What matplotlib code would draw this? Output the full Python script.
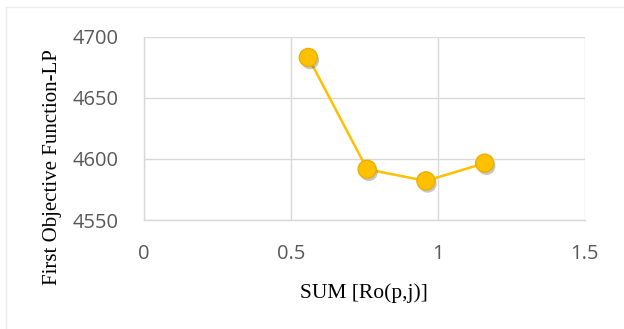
import matplotlib
matplotlib.use("Agg")
import matplotlib.pyplot as plt
from matplotlib.lines import Line2D
import matplotlib.patheffects as pe

x_vals = [0.56, 0.76, 0.96, 1.16]
y_vals = [4683, 4591.5, 4582, 4596.5]
x_ticks = [0, 0.5, 1, 1.5]
x_tick_labels = ["0", "0.5", "1", "1.5"]
y_ticks = [4550, 4600, 4650, 4700]
y_tick_labels = ["4550", "4600", "4650", "4700"]

W, H = 624, 329
fig = plt.figure(figsize=(W / 100, H / 100), dpi=100)
ax = fig.add_axes([0.2303, 0.3313, 0.9370 - 0.2303, 0.8884 - 0.3313])

# faint frame lines (top and left)
fig.lines.append(Line2D([6 / W, 1.0], [1 - 7 / H, 1 - 7 / H], transform=fig.transFigure,
                        color="#ececec", linewidth=1.0))
fig.lines.append(Line2D([6 / W, 6 / W], [0.0, 1 - 7 / H], transform=fig.transFigure,
                        color="#ececec", linewidth=1.0))

ax.plot(x_vals, y_vals, color="#FFC000", linewidth=1.8, zorder=3)
ax.plot(x_vals, y_vals, linestyle="none", zorder=4,
        marker="o", markersize=13, markerfacecolor="#FFC000",
        markeredgecolor="#EAB000", markeredgewidth=1.0,
        path_effects=[pe.SimplePatchShadow(offset=(1.2, -2.0), alpha=0.3, shadow_rgbFace="#444444"), pe.Normal()])

ax.set_xlim(0, 1.5)
ax.set_ylim(4550, 4700)
ax.set_xticks(x_ticks)
ax.set_xticklabels(x_tick_labels)
ax.set_yticks(y_ticks)
ax.set_yticklabels(y_tick_labels)

ax.grid(True, color="#d9d9d9", linewidth=1.0)
ax.set_axisbelow(True)
for s in ["top", "right"]:
    ax.spines[s].set_visible(False)
for s in ["left", "bottom"]:
    ax.spines[s].set_color("#d9d9d9")
    ax.spines[s].set_linewidth(1.0)

ax.tick_params(axis="both", length=0, labelsize=14.5, labelcolor="#595959")
ax.tick_params(axis="x", pad=17)
ax.tick_params(axis="y", pad=18)
for lab in ax.get_xticklabels() + ax.get_yticklabels():
    lab.set_family("Open Sans")

fig.text(364 / W, 1 - 293 / H, "SUM [Ro(p,j)]", family="Liberation Serif",
         fontsize=15.5, color="black", ha="center", va="center")
fig.text(53 / W, 1 - 167.5 / H, "First Objective Function-LP", family="Liberation Serif",
         fontsize=15, color="black", ha="center", va="center", rotation=90)

fig.savefig("out.png", dpi=100)
